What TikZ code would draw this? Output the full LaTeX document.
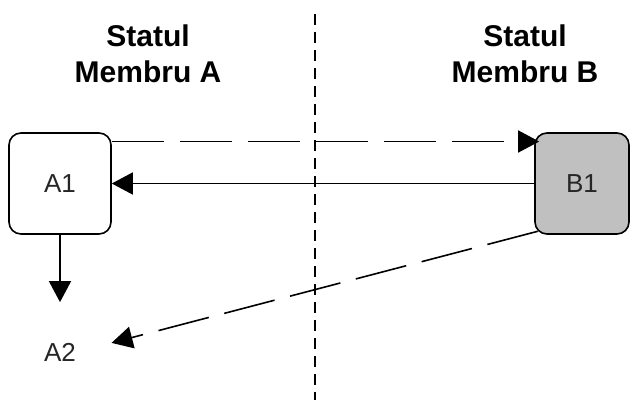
\documentclass[tikz,border=0pt]{standalone}
\usepackage{fontspec}
\setmainfont{Liberation Sans}
\usepackage{xcolor}
\usetikzlibrary{arrows.meta}
\definecolor{silver}{RGB}{192,192,192}

\begin{document}
\begin{tikzpicture}[x=1pt, y=-1pt, line width=1.6pt,
    every node/.style={inner sep=0pt},
    title/.style={align=center, font=\bfseries\fontsize{30}{36}\selectfont},
    label/.style={font=\fontsize{26}{30}\selectfont, text=black!85},
    box/.style={draw, rounded corners=12pt, minimum height=101pt, label},
    tip/.style={-{Triangle[length=21pt, width=22pt]}},
    longdash/.style={dash pattern=on 52pt off 16pt}]
    \useasboundingbox (0,0) rectangle (630,400);

    \node[title] (TA) at (148,54) {Statul\\Membru A};
    \node[title] (TB) at (525,54) {Statul\\Membru B};

    \node[box, minimum width=102pt] (A1) at (60,183.5) {A1};
    \node[box, minimum width=94pt, fill=silver] (B1) at (582,183.5) {B1};
    \node[label] (A2) at (60,352) {A2};

    % border between the two states
    \coordinate (top) at (315,14);
    \coordinate (bottom) at (315,400);
    \draw[dash pattern=on 11pt off 7pt] (top) -- (bottom);

    \draw[tip, longdash] ([yshift=42pt]A1.east) -- ([xshift=5pt, yshift=42pt]B1.west);
    \draw[tip] (B1) -- (A1);
    \draw[tip, shorten >=40pt] (A1) -- (A2);
    \draw[tip, longdash, shorten >=36pt] ([shift={(3.5pt,3.5pt)}]B1.south west) -- (A2.east);
\end{tikzpicture}
\end{document}
